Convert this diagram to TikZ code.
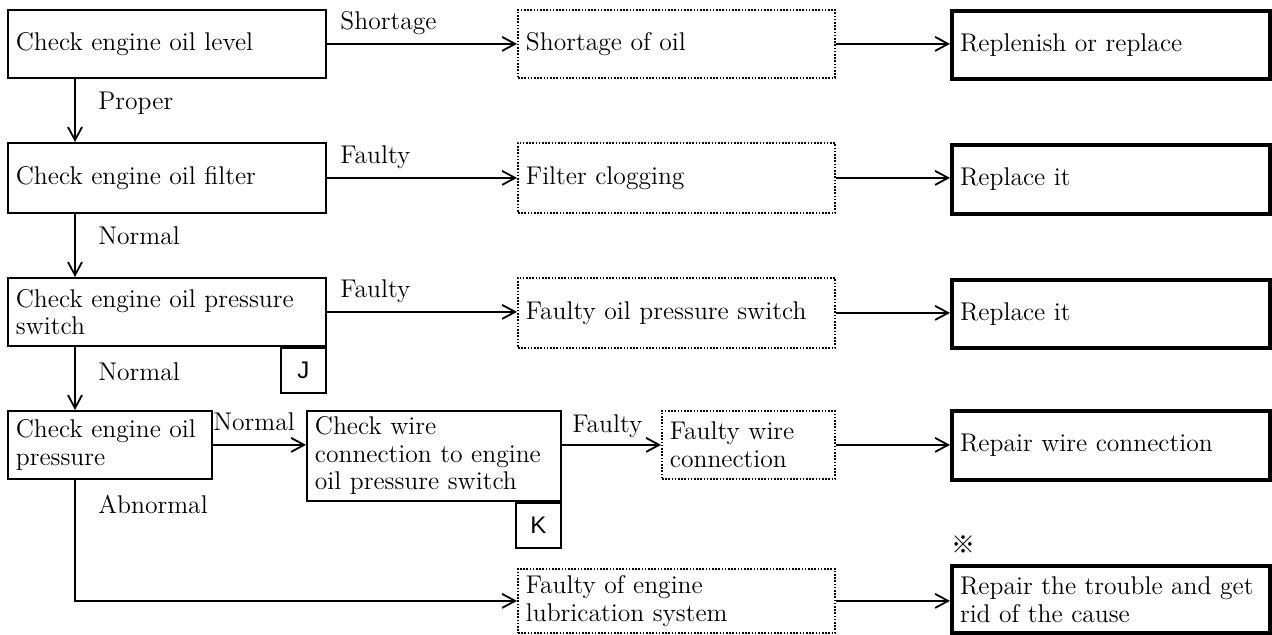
\documentclass[tikz,border=0pt]{standalone}
\usepackage{fontspec}
\setsansfont{Liberation Sans}
\newfontfamily\cjkfont{Noto Sans CJK JP}
\usetikzlibrary{arrows.meta}
\begin{document}
\begin{tikzpicture}[x=0.5pt,y=-0.5pt,
 base/.style={rectangle, anchor=north west, inner xsep=4pt, inner ysep=0pt, align=left, font=\fontsize{12.8}{13.75}\selectfont},
 solidbox/.style={base, draw, line width=0.9pt},
 dotbox/.style={base, draw, line width=0.9pt, dash pattern=on 0.8pt off 0.8pt},
 thickbox/.style={base, draw, line width=2pt, inner xsep=4pt},
 tagbox/.style={draw, line width=0.9pt, anchor=north east, minimum width=22.5pt, minimum height=22.5pt, inner sep=0pt, font=\sffamily\fontsize{12}{12}\selectfont},
 lbl/.style={anchor=base west, inner sep=0pt, font=\fontsize{12.8}{13.75}\selectfont},
 arr/.style={draw, line width=0.9pt, -{Straight Barb[length=6.5pt,width=7pt,line width=0.9pt]}},
]
\useasboundingbox (0,0) rectangle (1272,635);

% left column
\node[solidbox, text width=151pt, minimum height=34pt] (c1) at (7,9) {Check engine oil level};
\node[solidbox, text width=151pt, minimum height=35pt] (c2) at (7,142) {Check engine oil filter};
\node[solidbox, text width=151pt, minimum height=34pt] (c3) at (7,277) {Check engine oil pressure\\switch};
\node[solidbox, text width=94pt, minimum height=34pt] (c4) at (7,410) {Check engine oil\\pressure};
\node[solidbox, text width=119pt, minimum height=45pt] (w) at (306,410) {Check wire\\connection to engine\\oil pressure switch};
\node[tagbox] (J) at (c3.south east) {J};
\node[tagbox] (K) at (w.south east) {K};

% dotted column
\node[dotbox, text width=150.5pt, minimum height=34pt] (d1) at (517,9) {Shortage of oil};
\node[dotbox, text width=150.5pt, minimum height=35pt] (d2) at (517,142) {Filter clogging};
\node[dotbox, text width=150.5pt, minimum height=35pt] (d3) at (517,277) {Faulty oil pressure switch};
\node[dotbox, text width=78.5pt, minimum height=34pt] (d4) at (661,410) {Faulty wire\\connection};
\node[dotbox, text width=150.5pt, minimum height=32pt] (d5) at (517,568) {Faulty of engine\\lubrication system};

% thick column
\node[thickbox, text width=151pt, minimum height=34pt] (t1) at (950,9) {Replenish or replace};
\node[thickbox, text width=151pt, minimum height=34.5pt] (t2) at (950,143) {Replace it};
\node[thickbox, text width=151pt, minimum height=34pt] (t3) at (950,278) {Replace it};
\node[thickbox, text width=151pt, minimum height=34.5pt] (t4) at (950,409) {Repair wire connection};
\node[thickbox, text width=151pt, minimum height=33.5pt] (t5) at (950,564) {Repair the trouble and get\\rid of the cause};
\node[font=\cjkfont\fontsize{12}{12}\selectfont, inner sep=0pt] (mark) at (963,545) {※};

% labels
\node[lbl] (l1) at (340,30) {Shortage};
\node[lbl] (l2) at (98,110) {Proper};
\node[lbl] (l3) at (340,164) {Faulty};
\node[lbl] (l4) at (98,245) {Normal};
\node[lbl] (l5) at (340,298) {Faulty};
\node[lbl] (l6) at (98,380) {Normal};
\node[lbl] (l7) at (213,430) {Normal};
\node[lbl] (l8) at (572,432) {Faulty};
\node[lbl] (l9) at (98,513) {Abnormal};

% horizontal arrows
\draw[arr] (c1.east) -- (c1.east -| d1.west);
\draw[arr] (d1.east) -- (d1.east -| t1.west);
\draw[arr] (c2.east) -- (c2.east -| d2.west);
\draw[arr] (d2.east) -- (d2.east -| t2.west);
\draw[arr] (c3.east) -- (c3.east -| d3.west);
\draw[arr] (d3.east) -- (d3.east -| t3.west);
\draw[arr] (c4.east) -- (c4.east -| w.west);
\draw[arr] (w.east |- d4.west) -- (d4.west);
\draw[arr] (d4.east) -- (d4.east -| t4.west);
\draw[arr] (d5.east) -- (d5.east -| t5.west);

% vertical arrows
\draw[arr] ([xshift=34pt]c1.south west) -- ([xshift=34pt]c2.north west);
\draw[arr] ([xshift=34pt]c2.south west) -- ([xshift=34pt]c3.north west);
\draw[arr] ([xshift=34pt]c3.south west) -- ([xshift=34pt]c4.north west);
\draw[arr] ([xshift=34pt]c4.south west) |- (d5.west);
\end{tikzpicture}
\end{document}
